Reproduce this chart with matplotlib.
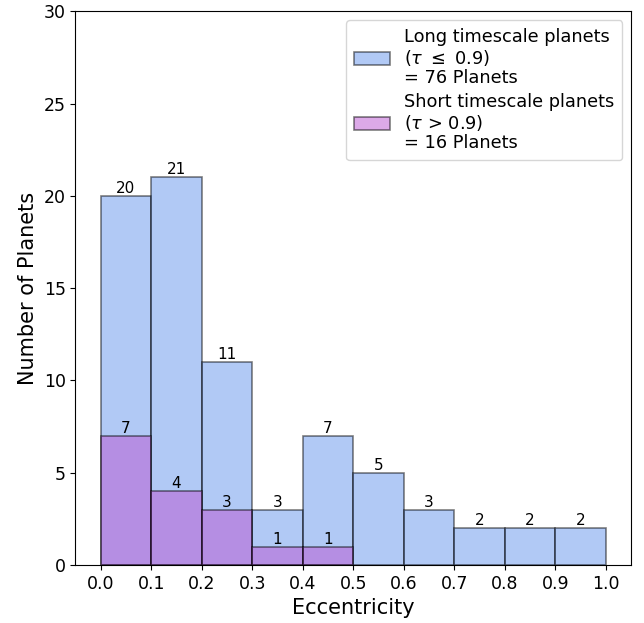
import matplotlib.pyplot as plt
import numpy as np

bin_edges = [0.0, 0.1, 0.2, 0.3, 0.4, 0.5, 0.6, 0.7, 0.8, 0.9, 1.0]
long_counts = [20, 21, 11, 3, 7, 5, 3, 2, 2, 2]
short_counts = [7, 4, 3, 1, 1, 0, 0, 0, 0, 0]

long_label = 'Long timescale planets\n($\\tau$ $\\leq$ 0.9)\n= {} Planets'.format(sum(long_counts))
short_label = 'Short timescale planets\n($\\tau$ > 0.9)\n= {} Planets'.format(sum(short_counts))

fig, ax = plt.subplots(figsize=(6.44, 6.23), dpi=100)

lefts = np.array(bin_edges[:-1])
width = 0.1

long_bars = ax.bar(lefts, long_counts, width=width, align='edge',
                   color=(100 / 255., 149 / 255., 237 / 255., 0.5),
                   edgecolor=(0, 0, 0, 0.5), linewidth=1.2, label=long_label)
short_lefts = [l for l, c in zip(lefts, short_counts) if c > 0]
short_vals = [c for c in short_counts if c > 0]
short_bars = ax.bar(short_lefts, short_vals, width=width, align='edge',
                    color=(186 / 255., 85 / 255., 211 / 255., 0.5),
                    edgecolor=(0, 0, 0, 0.5), linewidth=1.2, label=short_label)

ax.bar_label(long_bars, fontsize=11, padding=0)
ax.bar_label(short_bars, fontsize=11, padding=0)

ax.set_xticks(bin_edges)
ax.set_xticklabels(['{:.1f}'.format(x) for x in bin_edges])
ax.set_xlim(-0.05, 1.05)
ax.set_ylim(0, 30)
ax.tick_params(labelsize=12.5)
ax.set_xlabel('Eccentricity', fontsize=15)
ax.set_ylabel('Number of Planets', fontsize=15)

leg = ax.legend(loc='upper right', fontsize=12.8, handlelength=2.0,
                labelspacing=0.35, borderpad=0.45)
for t in leg.get_texts():
    t.set_linespacing(1.1)

plt.subplots_adjust(left=0.117, right=0.98, top=0.982, bottom=0.093)
plt.savefig('out.png')
